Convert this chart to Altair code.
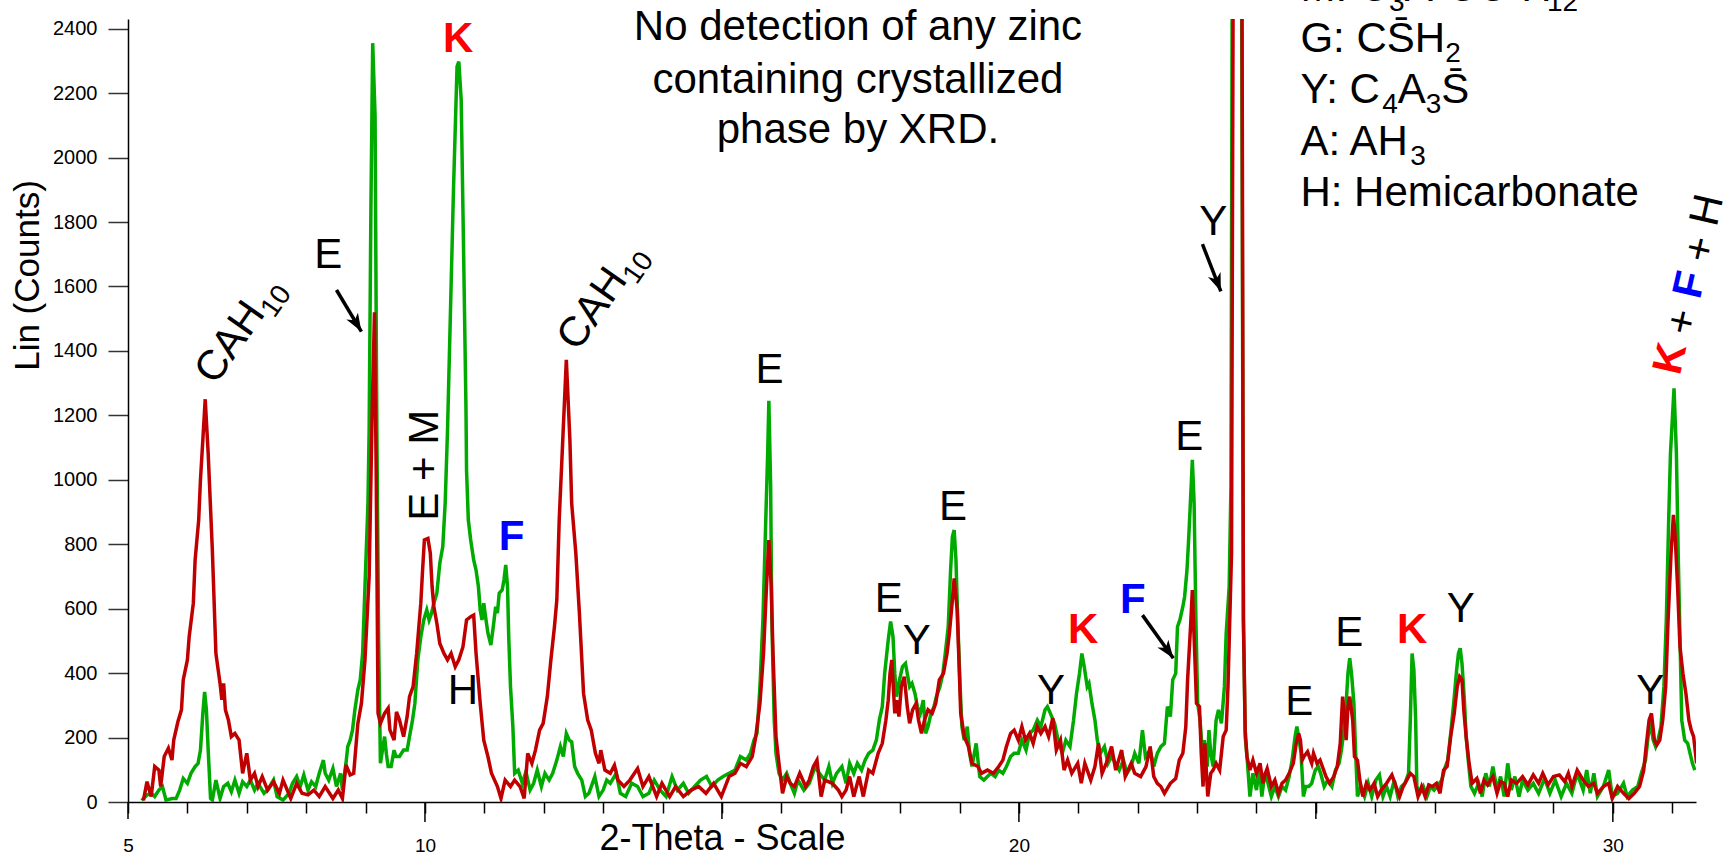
import math
import altair as alt
import pandas as pd

# ---------------- data (2-theta, counts) ----------------
GREEN = [(5.23,5),(5.32,22),(5.39,27),(5.45,17),(5.52,37),(5.58,48),(5.64,6),(5.74,11),(5.81,11),(5.87,37),(5.93,73),(6.00,58),(6.06,89),(6.13,110),(6.18,120),(6.22,161),(6.26,275),(6.29,342),(6.32,286),(6.35,161),(6.39,11),(6.42,6),(6.48,68),(6.55,11),(6.61,48),(6.68,58),(6.74,32),(6.80,68),(6.87,27),(6.93,63),(7.00,48),(7.06,68),(7.13,37),(7.19,58),(7.29,27),(7.35,37),(7.45,68),(7.51,17),(7.61,6),(7.71,27),(7.77,58),(7.84,79),(7.90,48),(7.96,84),(8.03,37),(8.09,63),(8.16,48),(8.22,89),(8.29,130),(8.32,89),(8.38,68),(8.45,104),(8.51,48),(8.58,89),(8.61,37),(8.67,120),(8.70,172),(8.74,192),(8.78,223),(8.82,286),(8.87,348),(8.91,379),(8.95,461),(8.99,668),(9.04,927),(9.06,1155),(9.09,1848),(9.12,2355),(9.16,2127),(9.18,1455),(9.19,1155),(9.22,500),(9.25,120),(9.32,203),(9.35,150),(9.38,110),(9.43,110),(9.48,161),(9.51,141),(9.57,141),(9.64,161),(9.70,161),(9.74,203),(9.79,254),(9.83,306),(9.88,441),(9.93,513),(9.98,565),(10.03,596),(10.07,565),(10.11,586),(10.15,617),(10.20,648),(10.25,741),(10.30,793),(10.34,927),(10.38,1155),(10.48,1900),(10.54,2282),(10.57,2298),(10.61,2179),(10.65,1713),(10.69,1227),(10.70,1030),(10.73,875),(10.77,813),(10.82,751),(10.86,720),(10.90,668),(10.93,596),(10.96,565),(10.99,617),(11.02,575),(11.06,524),(11.11,487),(11.15,544),(11.19,606),(11.22,586),(11.25,648),(11.30,658),(11.33,689),(11.36,736),(11.39,668),(11.41,513),(11.44,358),(11.48,234),(11.51,89),(11.57,99),(11.64,58),(11.70,94),(11.77,37),(11.83,58),(11.89,99),(11.96,48),(12.02,89),(12.09,68),(12.15,89),(12.22,130),(12.28,172),(12.33,141),(12.38,213),(12.43,192),(12.47,187),(12.52,110),(12.57,89),(12.64,68),(12.70,17),(12.76,27),(12.86,79),(12.93,17),(13.00,37),(13.06,68),(13.12,58),(13.22,89),(13.29,27),(13.38,17),(13.48,58),(13.58,48),(13.67,17),(13.77,27),(13.86,68),(13.96,37),(14.06,17),(14.16,79),(14.25,37),(14.35,58),(14.44,27),(14.54,48),(14.64,68),(14.74,79),(14.83,48),(14.93,68),(15.02,79),(15.12,89),(15.22,99),(15.31,141),(15.41,130),(15.48,151),(15.54,192),(15.59,213),(15.64,358),(15.69,565),(15.73,823),(15.77,1082),(15.79,1245),(15.82,979),(15.84,565),(15.88,254),(15.91,151),(15.96,89),(16.02,68),(16.09,89),(16.15,58),(16.22,27),(16.28,68),(16.38,37),(16.47,58),(16.57,110),(16.64,89),(16.73,68),(16.80,110),(16.86,58),(16.93,89),(17.02,110),(17.09,58),(17.15,120),(17.22,89),(17.28,120),(17.35,99),(17.41,130),(17.47,151),(17.54,161),(17.60,192),(17.65,254),(17.70,296),(17.74,399),(17.80,503),(17.84,560),(17.88,513),(17.91,399),(17.94,327),(17.99,379),(18.04,420),(18.09,430),(18.12,399),(18.16,358),(18.20,368),(18.25,337),(18.29,296),(18.34,275),(18.39,316),(18.43,213),(18.47,234),(18.52,275),(18.57,296),(18.61,327),(18.67,358),(18.72,399),(18.76,461),(18.81,544),(18.85,720),(18.88,823),(18.91,844),(18.94,751),(18.97,565),(19.01,358),(19.04,234),(19.08,192),(19.13,234),(19.17,151),(19.21,110),(19.28,182),(19.34,79),(19.41,68),(19.47,79),(19.53,89),(19.60,79),(19.66,99),(19.73,89),(19.79,110),(19.86,141),(19.92,151),(19.99,151),(20.05,192),(20.12,161),(20.18,213),(20.24,223),(20.31,254),(20.37,234),(20.44,286),(20.48,296),(20.53,275),(20.60,244),(20.66,192),(20.73,151),(20.79,192),(20.86,172),(20.92,254),(20.97,337),(21.02,399),(21.06,461),(21.10,420),(21.15,358),(21.18,368),(21.23,306),(21.28,254),(21.32,192),(21.37,151),(21.44,172),(21.50,120),(21.56,141),(21.63,120),(21.69,99),(21.76,130),(21.82,89),(21.89,110),(21.95,151),(22.02,120),(22.08,223),(22.13,141),(22.21,161),(22.27,110),(22.33,151),(22.39,172),(22.45,182),(22.50,296),(22.55,265),(22.59,379),(22.64,399),(22.67,544),(22.71,565),(22.76,606),(22.79,637),(22.83,720),(22.86,823),(22.90,979),(22.92,1062),(22.95,927),(22.98,565),(23.01,306),(23.05,254),(23.09,151),(23.12,192),(23.17,110),(23.20,223),(23.23,151),(23.27,110),(23.32,254),(23.36,286),(23.41,244),(23.46,358),(23.49,524),(23.54,668),(23.57,979),(23.665,8000),(23.78,565),(23.81,203),(23.84,141),(23.89,17),(23.94,89),(24.00,37),(24.05,110),(24.09,17),(24.14,89),(24.18,68),(24.25,17),(24.31,48),(24.37,17),(24.43,48),(24.49,37),(24.55,79),(24.60,130),(24.65,203),(24.68,234),(24.72,192),(24.75,151),(24.79,17),(24.83,48),(24.88,48),(24.93,58),(24.99,99),(25.04,110),(25.08,89),(25.14,48),(25.20,68),(25.27,48),(25.33,99),(25.39,120),(25.43,161),(25.48,234),(25.51,306),(25.54,399),(25.57,446),(25.60,399),(25.64,306),(25.67,151),(25.70,17),(25.76,48),(25.82,17),(25.88,58),(25.94,17),(26.01,68),(26.07,84),(26.13,17),(26.19,48),(26.25,17),(26.32,68),(26.38,17),(26.44,48),(26.50,58),(26.56,89),(26.59,254),(26.62,461),(26.65,410),(26.68,254),(26.70,48),(26.75,27),(26.81,48),(26.87,17),(26.93,48),(26.99,37),(27.06,53),(27.12,68),(27.18,110),(27.22,130),(27.27,213),(27.32,306),(27.37,410),(27.40,461),(27.43,477),(27.46,430),(27.50,317),(27.53,203),(27.57,120),(27.61,48),(27.67,27),(27.74,58),(27.80,17),(27.86,89),(27.92,48),(27.98,110),(28.05,37),(28.11,79),(28.17,17),(28.23,120),(28.29,37),(28.35,79),(28.42,17),(28.48,68),(28.57,37),(28.66,58),(28.75,27),(28.85,73),(28.94,27),(29.03,68),(29.13,17),(29.22,58),(29.31,27),(29.40,89),(29.50,37),(29.56,99),(29.62,27),(29.68,89),(29.74,17),(29.84,48),(29.93,99),(29.99,17),(30.08,27),(30.18,58),(30.24,17),(30.33,37),(30.42,48),(30.48,89),(30.55,130),(30.60,213),(30.64,234),(30.68,192),(30.72,172),(30.76,192),(30.81,234),(30.86,358),(30.90,565),(30.94,875),(30.97,1082),(31.03,1284),(31.07,1082),(31.10,772),(31.13,513),(31.16,254),(31.21,192),(31.26,182),(31.30,151),(31.34,120),(31.38,99)]

RED = [(5.26,5),(5.32,63),(5.39,17),(5.45,110),(5.52,99),(5.55,48),(5.61,141),(5.68,167),(5.74,130),(5.77,192),(5.84,249),(5.90,286),(5.93,379),(6.00,441),(6.03,513),(6.10,617),(6.13,751),(6.19,875),(6.22,1000),(6.26,1124),(6.30,1250),(6.35,1082),(6.42,782),(6.48,461),(6.55,368),(6.58,317),(6.61,368),(6.64,286),(6.69,255),(6.74,203),(6.80,213),(6.87,192),(6.93,89),(7.00,151),(7.06,68),(7.13,89),(7.19,48),(7.26,79),(7.35,37),(7.45,63),(7.55,27),(7.61,68),(7.74,11),(7.84,58),(7.93,27),(8.03,22),(8.13,37),(8.22,17),(8.32,48),(8.45,11),(8.54,37),(8.61,11),(8.67,115),(8.74,84),(8.80,89),(8.87,244),(8.93,306),(8.99,441),(9.06,700),(9.11,1200),(9.15,1520),(9.18,1000),(9.21,275),(9.25,244),(9.32,275),(9.38,291),(9.41,224),(9.48,192),(9.52,280),(9.57,255),(9.64,203),(9.70,265),(9.74,327),(9.80,358),(9.86,461),(9.93,617),(9.96,720),(9.99,813),(10.05,818),(10.09,772),(10.12,668),(10.15,606),(10.20,555),(10.25,492),(10.32,461),(10.38,441),(10.44,461),(10.51,420),(10.57,441),(10.64,482),(10.70,565),(10.77,575),(10.82,580),(10.86,461),(10.93,306),(10.99,192),(11.06,141),(11.12,89),(11.22,48),(11.28,11),(11.35,68),(11.44,48),(11.51,68),(11.60,48),(11.67,11),(11.73,151),(11.80,120),(11.86,161),(11.93,223),(11.99,244),(12.06,327),(12.12,441),(12.18,544),(12.22,627),(12.26,875),(12.31,1082),(12.38,1372),(12.44,1124),(12.47,927),(12.54,772),(12.60,586),(12.67,337),(12.74,254),(12.80,223),(12.87,151),(12.93,120),(12.96,161),(13.03,99),(13.12,89),(13.19,114),(13.25,68),(13.35,48),(13.45,68),(13.58,104),(13.67,48),(13.77,79),(13.90,17),(13.99,58),(14.12,17),(14.22,48),(14.35,17),(14.48,37),(14.61,48),(14.73,27),(14.86,58),(14.99,17),(15.12,79),(15.22,89),(15.31,120),(15.41,110),(15.51,141),(15.57,203),(15.64,306),(15.70,461),(15.75,668),(15.79,813),(15.83,668),(15.86,461),(15.91,203),(15.96,120),(16.02,27),(16.09,79),(16.15,58),(16.22,48),(16.31,89),(16.41,48),(16.47,68),(16.54,110),(16.60,130),(16.67,17),(16.73,68),(16.86,58),(16.96,37),(17.02,17),(17.09,37),(17.15,79),(17.22,17),(17.31,79),(17.38,17),(17.47,99),(17.54,89),(17.63,151),(17.70,182),(17.76,254),(17.80,316),(17.83,399),(17.86,441),(17.91,275),(17.94,316),(17.98,265),(18.02,358),(18.07,389),(18.12,296),(18.16,244),(18.21,286),(18.27,306),(18.31,254),(18.36,213),(18.41,254),(18.47,286),(18.54,275),(18.60,306),(18.66,379),(18.73,399),(18.79,461),(18.83,524),(18.87,606),(18.91,694),(18.96,596),(18.99,441),(19.02,275),(19.08,203),(19.15,172),(19.21,120),(19.31,110),(19.37,89),(19.47,99),(19.57,89),(19.66,110),(19.73,130),(19.79,172),(19.86,213),(19.92,223),(19.99,192),(20.05,234),(20.11,192),(20.18,213),(20.24,182),(20.31,234),(20.37,213),(20.44,234),(20.50,203),(20.57,260),(20.63,161),(20.70,192),(20.76,99),(20.82,130),(20.89,89),(20.99,120),(21.05,58),(21.11,120),(21.21,68),(21.28,110),(21.34,182),(21.40,89),(21.47,120),(21.56,172),(21.63,99),(21.73,161),(21.79,79),(21.89,120),(21.95,89),(22.05,79),(22.14,110),(22.21,172),(22.27,79),(22.33,58),(22.39,48),(22.45,27),(22.55,58),(22.64,73),(22.70,130),(22.76,151),(22.81,234),(22.84,379),(22.89,544),(22.92,658),(22.96,461),(22.99,306),(23.04,296),(23.07,151),(23.10,48),(23.13,182),(23.18,17),(23.23,89),(23.27,99),(23.32,120),(23.38,99),(23.44,203),(23.49,223),(23.52,358),(23.55,565),(23.58,772),(23.69,8000),(23.78,565),(23.81,223),(23.84,141),(23.89,99),(23.94,130),(24.00,89),(24.06,120),(24.11,58),(24.15,89),(24.18,104),(24.25,48),(24.31,68),(24.37,27),(24.43,58),(24.49,68),(24.55,89),(24.62,120),(24.67,182),(24.71,213),(24.74,192),(24.77,130),(24.80,141),(24.86,156),(24.93,120),(24.96,151),(25.02,120),(25.07,130),(25.11,110),(25.17,79),(25.23,58),(25.30,79),(25.36,110),(25.41,182),(25.45,327),(25.48,275),(25.51,192),(25.54,296),(25.57,327),(25.62,254),(25.65,141),(25.70,130),(25.74,68),(25.79,17),(25.85,58),(25.91,37),(25.98,58),(26.04,17),(26.10,37),(26.19,58),(26.28,84),(26.35,48),(26.41,17),(26.47,48),(26.53,68),(26.59,89),(26.65,79),(26.72,17),(26.78,48),(26.84,17),(26.90,53),(26.96,48),(27.03,58),(27.09,27),(27.15,99),(27.21,110),(27.27,203),(27.33,275),(27.38,358),(27.42,389),(27.46,379),(27.49,286),(27.53,203),(27.58,120),(27.63,58),(27.71,73),(27.77,27),(27.83,68),(27.89,53),(27.98,79),(28.05,27),(28.11,63),(28.17,58),(28.23,17),(28.29,68),(28.38,58),(28.48,79),(28.57,53),(28.66,84),(28.75,58),(28.82,89),(28.91,53),(29.00,79),(29.10,84),(29.19,63),(29.25,89),(29.31,48),(29.40,99),(29.50,68),(29.59,48),(29.68,58),(29.74,27),(29.84,48),(29.93,58),(29.99,11),(30.08,48),(30.18,27),(30.27,11),(30.36,27),(30.45,48),(30.52,99),(30.56,172),(30.61,254),(30.65,275),(30.70,192),(30.74,177),(30.79,192),(30.84,254),(30.89,358),(30.93,565),(30.98,772),(31.02,891),(31.05,823),(31.09,668),(31.13,482),(31.18,399),(31.23,337),(31.28,254),(31.32,223),(31.36,203),(31.41,120)]

# axis ticks / labels
X_TICKS = list(range(5, 32))
X_LABELLED = [5, 10, 20, 30]
X_MID_TICKS = [5, 15, 25]
X_LONG_TICKS = [10, 20, 30]
Y_TICKS = list(range(0, 2401, 100))

# annotations: (text, 2theta, counts)
PLAIN_LABELS = [("E", 8.37, 1697), ("H", 10.64, 343), ("E", 15.80, 1341),
                ("E", 17.81, 630), ("Y", 18.28, 500), ("E", 18.89, 916),
                ("Y", 20.54, 344), ("E", 22.87, 1132), ("Y", 23.27, 1799),
                ("E", 24.72, 309), ("E", 25.56, 525), ("Y", 27.44, 600),
                ("Y", 30.63, 344)]
BOLD_LABELS = [("K", 10.56, 2368, "#ff0000"), ("F", 11.46, 823, "#0000ff"),
               ("K", 21.08, 535, "#ff0000"), ("F", 21.92, 626, "#0000ff"),
               ("K", 26.62, 535, "#ff0000")]
# rotated CAH10 labels: (main, subscript, 2theta, counts of the label centre)
CAH_LABELS = [("CAH", "10", 6.84, 1470), ("CAH", "10", 12.94, 1574)]
EM_LABEL = [("E + M", 10.0, 1045)]
KFH_BOLD = [("K", 30.97, 1376, "#ff0000"), ("F", 31.30, 1605, "#0000ff")]
KFH_PLAIN = [("+", 31.17, 1490), ("+", 31.47, 1716), ("H", 31.59, 1837)]
# legend rows: list of (segment, is_subscript); baseline counts per row
LEGEND_ROWS = [
    [("M: C", 0), ("3", 1), ("A\u00b7CC\u0304\u00b7H", 0), ("12", 1)],
    [("G: CS\u0304H", 0), ("2", 1)],
    [("Y: C", 0), ("4", 1), ("A", 0), ("3", 1), ("S\u0304", 0)],
    [("A: AH", 0), ("3", 1)],
    [("H: Hemicarbonate", 0)],
]
LEGEND_X = 24.74
LEGEND_BASELINES = [2486, 2327, 2169, 2008, 1849]
NOTE_ROWS = [("No detection of any zinc", 17.29, 2405),
             ("containing crystallized", 17.29, 2241),
             ("phase by XRD.", 17.29, 2086)]
ARROWS = [(8.51, 1589, 8.93, 1460), (22.08, 580, 22.60, 446), (23.09, 1731, 23.40, 1585)]

# ---------------- layout ----------------
X_DOMAIN = [5, 31.4]
Y_DOMAIN = [0, 2430]
W, H = 1568, 783
FONT = "Liberation Sans"
BIG, SUB, SUB_DROP = 42, 28, 10
# Arial / Liberation Sans advance widths (per 1000 em)
ADV = {"A": 667, "C": 722, "G": 778, "H": 722, "M": 833, "S": 667, "Y": 667,
       ":": 278, " ": 278, "\u00b7": 278, "\u0304": 0,
       "0": 556, "1": 556, "2": 556, "3": 556, "4": 556}

def text_width(s, size):
    return sum(ADV.get(ch, 556) for ch in s) * size / 1000.0

green = pd.DataFrame(GREEN, columns=["tt", "cnt"])
red = pd.DataFrame(RED, columns=["tt", "cnt"])

xs = alt.Scale(domain=X_DOMAIN, nice=False, zero=False)
ys = alt.Scale(domain=Y_DOMAIN, nice=False, zero=True)

x_axis = alt.Axis(values=X_TICKS, format="d",
                  labelExpr="indexof([5,10,20,30], datum.value) >= 0 ? datum.label : ''",
                  tickSize=11, tickWidth=1.5, tickColor="black",
                  domainColor="black", domainWidth=1.5,
                  labelPadding=23, labelFontSize=19, labelFont=FONT, labelColor="black",
                  labelFlush=False, labelOverlap=False, labelAngle=0, grid=False,
                  title="2-Theta - Scale", titleFont=FONT, titleFontSize=36,
                  titleFontWeight="normal", titleColor="black",
                  titleX=594, titleY=47, titleAlign="center", titleBaseline="alphabetic")
y_axis = alt.Axis(values=Y_TICKS, format="d",
                  labelExpr="datum.value % 200 === 0 ? datum.label : ''",
                  tickSize=20, tickWidth=1.5, tickColor="#333333",
                  domainColor="black", domainWidth=1.5,
                  labelPadding=11, labelFontSize=20, labelFont=FONT, labelColor="black",
                  labelFlush=False, labelOverlap=False, grid=False,
                  title="Lin (Counts)", titleFont=FONT, titleFontSize=35,
                  titleFontWeight="normal", titleColor="black",
                  titleX=-101, titleY=256, titleAngle=270, titleAlign="center",
                  titleBaseline="middle")

g_line = alt.Chart(green).mark_line(color="#00aa00", strokeWidth=3.5, clip=True).encode(
    x=alt.X("tt:Q", scale=xs, axis=x_axis),
    y=alt.Y("cnt:Q", scale=ys, axis=y_axis),
)
r_line = alt.Chart(red).mark_line(color="#c00000", strokeWidth=3.5, clip=True).encode(
    x=alt.X("tt:Q", scale=xs), y=alt.Y("cnt:Q", scale=ys))

def text_layer(df, **kw):
    base = dict(font=FONT, fontSize=BIG, baseline="middle", align="center")
    base.update(kw)
    enc = dict(x=alt.X("tt:Q", scale=xs), y=alt.Y("cnt:Q", scale=ys), text="t:N")
    if "col" in df.columns:
        enc["color"] = alt.Color("col:N", scale=None)
    else:
        base.setdefault("color", "black")
    return alt.Chart(df).mark_text(**base).encode(**enc)

layers = []
layers.append(text_layer(pd.DataFrame(PLAIN_LABELS, columns=["t", "tt", "cnt"])))
layers.append(text_layer(pd.DataFrame(BOLD_LABELS, columns=["t", "tt", "cnt", "col"]),
                         fontWeight="bold"))
layers.append(text_layer(pd.DataFrame(EM_LABEL, columns=["t", "tt", "cnt"]), angle=270))
layers.append(text_layer(pd.DataFrame(KFH_BOLD, columns=["t", "tt", "cnt", "col"]),
                         angle=283, fontWeight="bold"))
layers.append(text_layer(pd.DataFrame(KFH_PLAIN, columns=["t", "tt", "cnt"]), angle=283))
layers.append(text_layer(pd.DataFrame(NOTE_ROWS, columns=["t", "tt", "cnt"])))

# rotated CAH10 with a real subscript
for main, sub, tt, cnt in CAH_LABELS:
    total = text_width(main, BIG) + text_width(sub, SUB)
    x0 = -total / 2.0
    df = pd.DataFrame({"t": [main], "tt": [tt], "cnt": [cnt]})
    layers.append(text_layer(df, angle=305, align="left", baseline="alphabetic",
                             dx=x0, dy=15))
    df2 = pd.DataFrame({"t": [sub], "tt": [tt], "cnt": [cnt]})
    layers.append(text_layer(df2, angle=305, align="left", baseline="alphabetic",
                             fontSize=SUB, dx=x0 + text_width(main, BIG), dy=15 + SUB_DROP))

# legend block with subscripts
for row, base_cnt in zip(LEGEND_ROWS, LEGEND_BASELINES):
    off = 0.0
    for seg, is_sub in row:
        size = SUB if is_sub else BIG
        df = pd.DataFrame({"t": [seg], "tt": [LEGEND_X], "cnt": [base_cnt]})
        layers.append(text_layer(df, align="left", baseline="alphabetic", fontSize=size,
                                 dx=off, dy=SUB_DROP if is_sub else 0))
        off += text_width(seg, size)

# arrows
px_per_x = W / (X_DOMAIN[1] - X_DOMAIN[0])
px_per_y = H / (Y_DOMAIN[1] - Y_DOMAIN[0])
arr = pd.DataFrame(ARROWS, columns=["x1", "y1", "x2", "y2"])
arr["ang"] = [math.degrees(math.atan2((r.x2 - r.x1) * px_per_x, (r.y2 - r.y1) * px_per_y)) % 360
              for r in arr.itertuples()]
shaft = alt.Chart(arr).mark_rule(color="black", strokeWidth=3.5).encode(
    x=alt.X("x1:Q", scale=xs), y=alt.Y("y1:Q", scale=ys), x2="x2:Q", y2="y2:Q")
head = alt.Chart(arr).mark_point(
    shape="M0,0 L0.75,2 L0,1.45 L-0.75,2 Z", filled=True, color="black", opacity=1,
    size=324, strokeWidth=0).encode(
    x=alt.X("x2:Q", scale=xs), y=alt.Y("y2:Q", scale=ys),
    angle=alt.Angle("ang:Q", scale=None))

# longer x ticks at multiples of 5
mid_t = alt.Chart(pd.DataFrame({"tt": X_MID_TICKS})).mark_rule(color="black", strokeWidth=1.5).encode(
    x=alt.X("tt:Q", scale=xs), y=alt.value(H), y2=alt.value(H + 17))
long_t = alt.Chart(pd.DataFrame({"tt": X_LONG_TICKS})).mark_rule(color="black", strokeWidth=1.5).encode(
    x=alt.X("tt:Q", scale=xs), y=alt.value(H), y2=alt.value(H + 20))

chart = alt.layer(g_line, r_line, mid_t, long_t, *layers, shaft, head).properties(
    width=W, height=H,
    autosize=alt.AutoSizeParams(type="none"),
    padding={"left": 128, "top": 19, "right": 29, "bottom": 55},
    background="white",
).configure_view(stroke=None)

chart.save("out.html", embed_options={"renderer": "svg", "actions": False})
